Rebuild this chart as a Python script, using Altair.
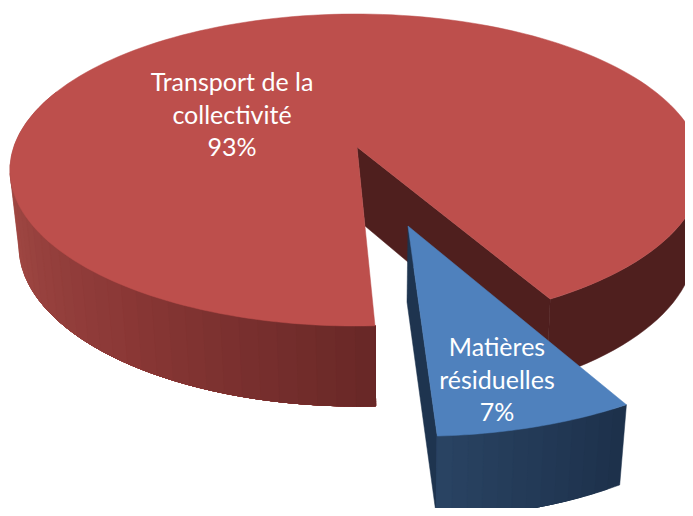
import math
import altair as alt
import pandas as pd

categories = ["Transport de la collectivité", "Matières résiduelles"]
shares = [93, 7]
label_lines = [["Transport de la", "collectivité"], ["Matières", "résiduelles"]]
label_anchor_x = [232, 497]
label_anchor_y = [91, 356]

# projected pie geometry, in reference pixels
TOP = (356, 170, 346, 156)
BOT = (357, 246, 338, 160)
APEX = (357, 147)
APEX_BOT = (365, 226)
BLUE_APEX = (408, 226)
BLUE_APEX_BOT = (407, 302)
NEAR = 176.85
GAP = shares[1] * 3.6 * 1.23  # the near side is stretched by perspective
FAR = NEAR - GAP


def ell(e, t):
    r = math.radians(t)
    return (e[0] + e[2] * math.sin(r), e[1] - e[3] * math.cos(r))


def hexmix(a, b, f):
    ca = [int(a[i:i + 2], 16) for i in (1, 3, 5)]
    cb = [int(b[i:i + 2], 16) for i in (1, 3, 5)]
    return "#%02x%02x%02x" % tuple(round(x + (y - x) * f) for x, y in zip(ca, cb))


def blue_top(t):
    x, y = ell(TOP, t)
    dx, dy = x - APEX[0], y - APEX[1]
    return (BLUE_APEX[0] + 1.088 * dx + 0.054 * dy, BLUE_APEX[1] + 1.175 * dy)


def blue_bot(t):
    x, y = ell(BOT, t)
    dx, dy = x - APEX_BOT[0], y - APEX_BOT[1]
    return (BLUE_APEX_BOT[0] + 1.086 * dx + 0.1008 * dy, BLUE_APEX_BOT[1] + 1.2 * dy)


rows = []
part = [0]


def poly(pts, color):
    part[0] += 1
    pts = list(pts) + [pts[0]]
    for i, (x, y) in enumerate(pts):
        rows.append({"x": x, "y": y, "part": part[0], "i": i, "c": color})


def steps(a, b, n):
    return [a + (b - a) * i / n for i in range(n + 1)]


def band(top, bot, a, b, color):
    ts = steps(a, b, 30)
    poly([top(t) for t in ts] + [bot(t) for t in reversed(ts)], color)


def red_top(t):
    return ell(TOP, t)


def red_bot(t):
    return ell(BOT, t)


# inner cut wall of the red slice
poly([APEX, ell(TOP, FAR), ell(BOT, FAR), APEX_BOT], "#4f1f1e")
# right outer wall
band(red_top, red_bot, FAR, 80, "#4f1f1e")
# left outer wall: nested bands, lightest first, so no seams show
band(red_top, red_bot, NEAR, 300, "#a34a45")
n = 30
for i in range(n):
    f = 1 - i / (n - 1)  # 1 at the far left, 0 at the near edge
    c = hexmix("#672726", "#8b3836", f * 2) if f < 0.5 else hexmix("#8b3836", "#a34a45", (f - 0.5) * 2)
    band(red_top, red_bot, NEAR, NEAR + (272 - NEAR) * f, c)
# red top
poly([APEX] + [ell(TOP, t) for t in steps(NEAR, FAR + 360, 200)], "#bd4f4c")
# blue walls
poly([BLUE_APEX, blue_top(NEAR), blue_bot(NEAR), BLUE_APEX_BOT], "#1e344f")
n = 14
for i in range(n):
    f = i / (n - 1)
    band(blue_top, blue_bot, NEAR, FAR + (NEAR - FAR) * f, hexmix("#1d314b", "#2a4464", f))
# blue top
poly([BLUE_APEX] + [blue_top(t) for t in steps(FAR, NEAR, 30)], "#4f81bd")

df = pd.DataFrame(rows)

text_rows = []
for cat, share, lines, lx, ly in zip(categories, shares, label_lines, label_anchor_x, label_anchor_y):
    text_rows.append({"x": lx, "y": ly, "t": lines + [f"{share}%"], "cat": cat})
tdf = pd.DataFrame(text_rows)

xs = alt.Scale(domain=[8, 685], nice=False, zero=False)
ys = alt.Scale(domain=[508, 8], nice=False, zero=False)

shapes = alt.Chart(df).mark_line(clip=True, strokeWidth=0.5, interpolate="linear").encode(
    x=alt.X("x:Q", scale=xs, axis=None),
    y=alt.Y("y:Q", scale=ys, axis=None),
    order="i:Q",
    detail="part:N",
    fill=alt.Fill("c:N", scale=None),
    stroke=alt.Stroke("c:N", scale=None),
)

labels = alt.Chart(tdf).mark_text(
    font="Lato", fontSize=25, color="white", align="center", baseline="alphabetic", lineHeight=32.5
).encode(
    x=alt.X("x:Q", scale=xs, axis=None),
    y=alt.Y("y:Q", scale=ys, axis=None),
    text="t",
)

chart = alt.layer(shapes, labels).properties(width=677, height=500, padding=0).configure_view(stroke=None)
chart.save("out.html", embed_options={"renderer": "svg", "actions": False})
